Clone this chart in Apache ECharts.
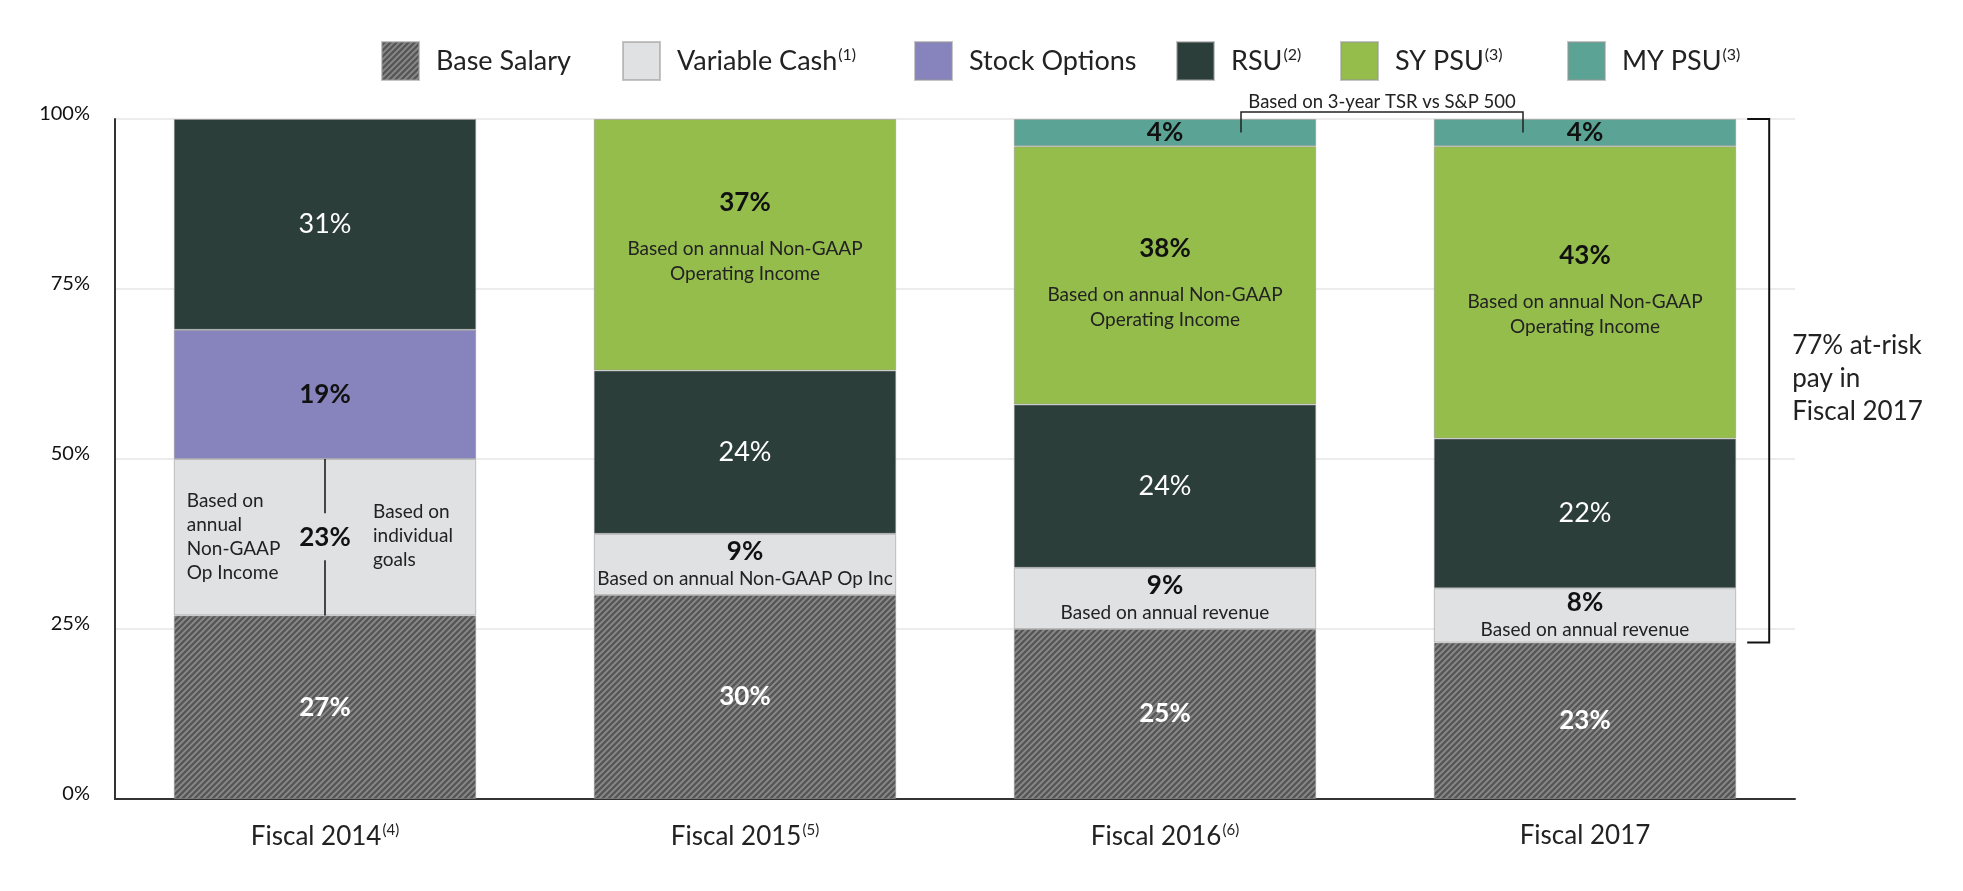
<!DOCTYPE html>
<html><head><meta charset="utf-8">
<script src="https://cdn.jsdelivr.net/npm/echarts@6/dist/echarts.min.js"></script>
<style>html,body{margin:0;padding:0;background:#fff}#c{width:1963px;height:891px}</style>
</head><body><div id="c"></div>
<script>
// ---- data ----
const categories = ['Fiscal 2014', 'Fiscal 2015', 'Fiscal 2016', 'Fiscal 2017'];
const categoryNotes = ['(4)', '(5)', '(6)', ''];
const seriesNames = ['Base Salary', 'Variable Cash', 'Stock Options', 'RSU', 'SY PSU', 'MY PSU'];
const seriesNotes = ['', '(1)', '', '(2)', '(3)', '(3)'];
const baseSalary = [27, 30, 25, 23];
const variableCash = [23, 9, 9, 8];
const stockOptions = [19, 0, 0, 0];
const rsu = [31, 24, 24, 22];
const syPsu = [0, 37, 38, 43];
const myPsu = [0, 0, 4, 4];
const variableCashNotes = ['', 'Based on annual Non-GAAP Op Inc', 'Based on annual revenue', 'Based on annual revenue'];
const syPsuNotes = ['', 'Based on annual Non-GAAP\nOperating Income', 'Based on annual Non-GAAP\nOperating Income', 'Based on annual Non-GAAP\nOperating Income'];
const yMin = 0, yMax = 100, yInterval = 25;
const fy14LeftNote = 'Based on\nannual\nNon-GAAP\nOp Income';
const fy14RightNote = 'Based on\nindividual\ngoals';
const tsrNote = 'Based on 3-year TSR vs S&P 500';
const atRiskNote = '77% at-risk\npay in\nFiscal 2017';
const atRiskFrom = 23, atRiskTo = 100;

// ---- style ----
const FONT = 'Lato, "Noto Sans", sans-serif';
const TXT = '#222';
function hatch() {
  const s = 6;
  const c = document.createElement('canvas'); c.width = s; c.height = s;
  const g = c.getContext('2d');
  g.fillStyle = '#575757'; g.fillRect(0, 0, s, s);
  g.strokeStyle = '#8a8a8a'; g.lineWidth = 1.8;
  g.beginPath();
  g.moveTo(0, s); g.lineTo(s, 0);
  g.moveTo(-1, 1); g.lineTo(1, -1);
  g.moveTo(s - 1, s + 1); g.lineTo(s + 1, s - 1);
  g.stroke();
  return c;
}
const colors = [{ image: hatch(), repeat: 'repeat' }, '#e0e1e3', '#8783bd', '#2c3e39', '#95bd4c', '#5ba394'];
const seriesData = [baseSalary, variableCash, stockOptions, rsu, syPsu, myPsu];

const rich = {
  w: { color: '#fff', fontSize: 26, fontWeight: 'bold', fontFamily: FONT },
  wn: { color: '#fff', fontSize: 27, fontWeight: 'normal', fontFamily: FONT },
  b: { color: '#111', fontSize: 26, fontWeight: 'bold', fontFamily: FONT, lineHeight: 28 },
  b2: { color: '#111', fontSize: 26, fontWeight: 'bold', fontFamily: FONT, lineHeight: 67 },
  s: { color: TXT, fontSize: 19, fontFamily: FONT, lineHeight: 25 }
};
function sub(t) { return t.split('\n').map(l => '{s|' + l + '}').join('\n'); }
const formatters = [
  p => '{w|' + p.value + '%}',
  p => variableCashNotes[p.dataIndex] ? '{b|' + p.value + '%}\n' + sub(variableCashNotes[p.dataIndex]) : '{b|' + p.value + '%}',
  p => '{b|' + p.value + '%}',
  p => '{wn|' + p.value + '%}',
  p => '{b2|' + p.value + '%}\n' + sub(syPsuNotes[p.dataIndex]),
  p => '{b|' + p.value + '%}'
];
// per-category vertical nudges of the SY PSU label block (style only)
const syLabelNudge = [0, -17, -2, -12];

const series = seriesNames.map((n, k) => ({
  name: n,
  type: 'bar',
  stack: 'total',
  barWidth: '72%',
  data: seriesData[k].map((v, i) => {
    if (v === 0) return '-';
    if (k === 4) return { value: v, label: { offset: [0, syLabelNudge[i]] } };
    return v;
  }),
  itemStyle: { color: colors[k], borderColor: 'rgba(150,150,150,0.55)', borderWidth: 1 },
  emphasis: { disabled: true },
  label: { show: true, position: 'inside', formatter: formatters[k], rich: rich }
}));

// one legend per entry so each sits where the reference puts it
const legendLeft = [376, 617, 909, 1171, 1335, 1562];
const legends = seriesNames.map((n, k) => ({
  left: legendLeft[k], top: 36, itemWidth: 37, itemHeight: 38,
  icon: 'rect', selectedMode: false, data: [n],
  formatter: name => '{n|' + name + '}' + (seriesNotes[k] ? '{sup|' + seriesNotes[k] + '}' : ''),
  textStyle: {
    fontFamily: FONT, fontSize: 27, color: TXT,
    rich: {
      n: { fontFamily: FONT, fontSize: 27, color: TXT, padding: [0, 0, 0, 12] },
      sup: { fontFamily: FONT, fontSize: 16, color: TXT, padding: [0, 0, 12, 1] }
    }
  }
}));

const chart = echarts.init(document.getElementById('c'));
chart.setOption({
  animation: false,
  backgroundColor: '#fff',
  grid: { left: 115, right: 168, top: 119, bottom: 92 },
  legend: legends,
  xAxis: {
    type: 'category',
    data: categories,
    axisLine: { lineStyle: { color: '#333', width: 2 } },
    axisTick: { show: false },
    axisLabel: {
      margin: 24,
      formatter: (v, i) => '{n|' + v + '}' + (categoryNotes[i] ? '{sup|' + categoryNotes[i] + '}' : ''),
      rich: {
        n: { fontFamily: FONT, fontSize: 26, color: TXT },
        sup: { fontFamily: FONT, fontSize: 15, color: TXT, padding: [0, 0, 12, 1] }
      }
    }
  },
  yAxis: {
    type: 'value', min: yMin, max: yMax, interval: yInterval,
    axisLine: { show: true, lineStyle: { color: '#333', width: 2 } },
    axisTick: { show: false },
    splitLine: { lineStyle: { color: '#ececec', width: 2 } },
    axisLabel: { formatter: '{value}%', fontFamily: FONT, fontSize: 20, color: '#111', margin: 25, verticalAlign: 'bottom', lineHeight: 11 }
  },
  series: series
});

// ---- annotations placed through the chart's own coordinate system ----
const px = (i, v) => chart.convertToPixel({ gridIndex: 0 }, [i, v]);
const x0 = px(0, 0)[0], x1 = px(1, 0)[0];
const band = x1 - x0, barW = band * 0.72;
const g = [];
const Z = 100;

// Fiscal 2014 variable cash split
{
  const vTop = baseSalary[0] + variableCash[0], vBot = baseSalary[0];
  const cx = px(0, 0)[0];
  const yTop = px(0, vTop)[1], yBot = px(0, vBot)[1], yMid = px(0, (vTop + vBot) / 2)[1];
  g.push({ type: 'line', z: Z, shape: { x1: cx, y1: yTop, x2: cx, y2: yMid - 24 }, style: { stroke: '#111', lineWidth: 1.5 }, silent: true });
  g.push({ type: 'line', z: Z, shape: { x1: cx, y1: yMid + 23, x2: cx, y2: yBot }, style: { stroke: '#111', lineWidth: 1.5 }, silent: true });
  g.push({ type: 'text', z: Z, x: cx - barW / 2 + 13, y: yMid, style: { text: fy14LeftNote, font: '19px ' + FONT, fill: TXT, lineHeight: 24, align: 'left', verticalAlign: 'middle' }, silent: true });
  g.push({ type: 'text', z: Z, x: cx + 48, y: yMid - 1, style: { text: fy14RightNote, font: '19px ' + FONT, fill: TXT, lineHeight: 24, align: 'left', verticalAlign: 'middle' }, silent: true });
}
// TSR bracket between Fiscal 2016 and 2017 MY PSU
{
  const mid16 = px(2, 100 - myPsu[2] / 2), mid17 = px(3, 100 - myPsu[3] / 2);
  const lx = mid16[0] + 76, rx = mid17[0] - 62;
  const yTopLine = px(2, 100)[1] - 7;
  g.push({ type: 'polyline', z: Z, shape: { points: [[lx, mid16[1]], [lx, yTopLine], [rx, yTopLine], [rx, mid17[1]]] }, style: { stroke: '#222', lineWidth: 1.5, fill: null }, silent: true });
  g.push({ type: 'text', z: Z, x: (lx + rx) / 2, y: yTopLine - 10, style: { text: tsrNote, font: '18.5px ' + FONT, fill: TXT, align: 'center', verticalAlign: 'middle' }, silent: true });
}
// At-risk bracket for Fiscal 2017
{
  const c3 = px(3, 0)[0];
  const bx = c3 + barW / 2 + 33;
  const yT = px(3, atRiskTo)[1], yB = px(3, atRiskFrom)[1];
  g.push({ type: 'polyline', z: Z, shape: { points: [[bx - 22, yT], [bx, yT], [bx, yB], [bx - 22, yB]] }, style: { stroke: '#111', lineWidth: 2, fill: null }, silent: true });
  g.push({ type: 'text', z: Z, x: bx + 23, y: (yT + yB) / 2 - 2, style: { text: atRiskNote, font: '26px ' + FONT, fill: TXT, lineHeight: 33, align: 'left', verticalAlign: 'middle' }, silent: true });
}
chart.setOption({ graphic: g });
</script>
</body></html>
